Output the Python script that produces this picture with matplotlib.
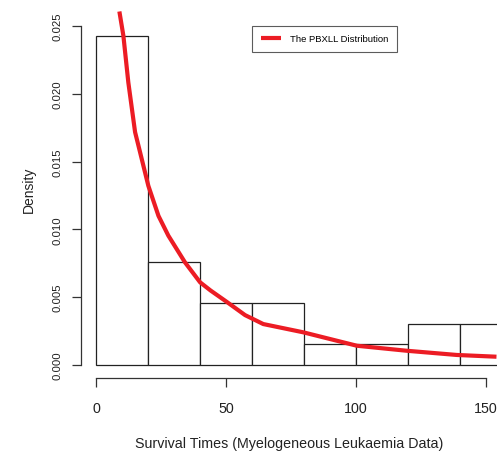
import matplotlib
matplotlib.use('Agg')
import matplotlib.pyplot as plt
import numpy as np

plt.rcParams['font.family'] = ['Liberation Sans', 'DejaVu Sans']

# histogram of survival times (density scale)
bin_edges = [0, 20, 40, 60, 80, 100, 120, 140, 160]
densities = [0.0243, 0.00758, 0.00455, 0.00455, 0.00152, 0.00152, 0.00303, 0.00303]

# fitted PBXLL density, evaluated along the survival times
curve_x = [8.96, 10.5, 12.4, 15.0, 16.9, 20.1, 24.0, 27.8, 34.2, 40.0, 44.0,
           50.3, 57.3, 64.3, 79.7, 100.3, 119.5, 138.7, 154.0]
curve_y = [0.02608, 0.02429, 0.02085, 0.01718, 0.01571, 0.01322, 0.0110,
           0.00954, 0.00757, 0.0061, 0.0055, 0.00465, 0.00368, 0.00302,
           0.00241, 0.00142, 0.00105, 0.00074, 0.00061]

xticks = [0, 50, 100, 150]
yticks = [0.000, 0.005, 0.010, 0.015, 0.020, 0.025]

W, H = 497, 456
fig = plt.figure(figsize=(W / 100, H / 100), dpi=100)
ax = fig.add_axes([81 / W, 1 - 379 / H, 1 - 81 / W, 379 / H])

widths = np.diff(bin_edges)
ax.bar(bin_edges[:-1], densities, width=widths, align='edge',
       facecolor='white', edgecolor='#222222', linewidth=0.9)
ax.plot(curve_x, curve_y, color='#EC1C24', linewidth=3.0,
        label='The PBXLL Distribution', solid_capstyle='butt')

ax.set_xlim(-5.8, 154.2)
ax.set_ylim(-0.00096, 0.027)

for s in ['top', 'right']:
    ax.spines[s].set_visible(False)
ax.spines['left'].set_bounds(0, 0.025)
ax.spines['bottom'].set_bounds(0, 150)
for s in ['left', 'bottom']:
    ax.spines[s].set_color('#333333')
    ax.spines[s].set_linewidth(0.9)

ax.set_xticks(xticks)
ax.set_xticklabels([str(t) for t in xticks])
ax.set_yticks(yticks)
ax.set_yticklabels(['%.3f' % t for t in yticks], rotation=90, va='center')
ax.tick_params(axis='both', length=6.5, width=0.9, color='#333333',
               labelcolor='#222222')
ax.tick_params(axis='x', pad=10, labelsize=10.3)
ax.tick_params(axis='y', pad=7, labelsize=8.2)

ax.set_xlabel('Survival Times (Myelogeneous Leukaemia Data)', fontsize=10.3,
              color='#222222', labelpad=15)
ax.set_ylabel('Density', fontsize=10, color='#222222', labelpad=12)

leg = ax.legend(loc='upper left', bbox_to_anchor=(252 / W, 1 - 27 / H),
                bbox_transform=fig.transFigure, fontsize=6.8, frameon=True,
                fancybox=False, borderaxespad=0, handlelength=2.2,
                borderpad=0.9, handletextpad=0.9)
leg.get_frame().set_edgecolor('#333333')
leg.get_frame().set_linewidth(0.8)

fig.savefig('out.png', dpi=100)
